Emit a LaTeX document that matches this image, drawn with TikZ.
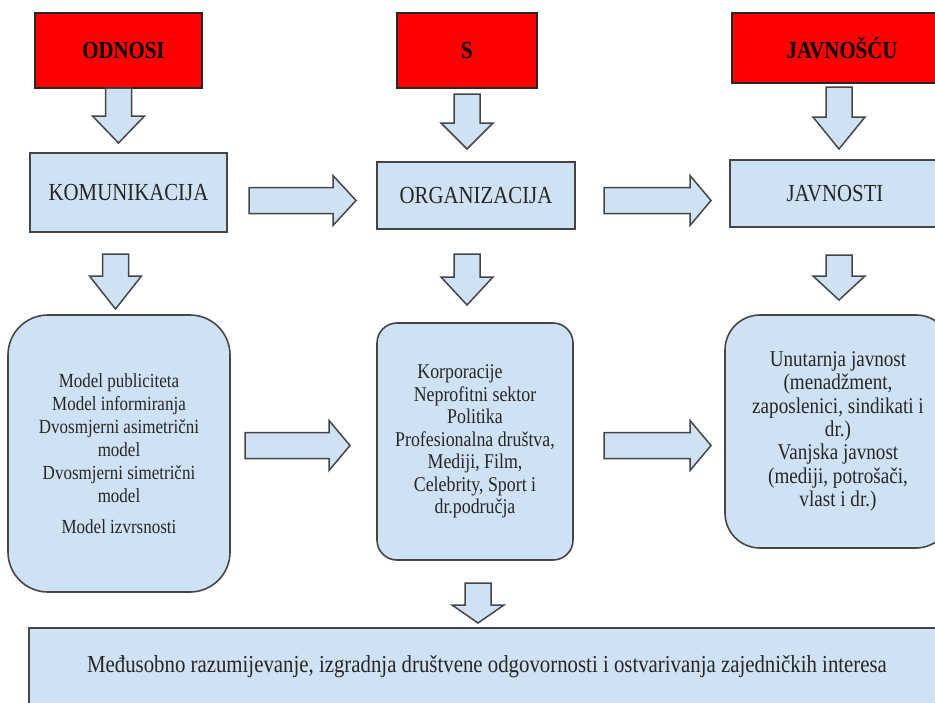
\documentclass[tikz,border=0pt]{standalone}
\usepackage{fontspec}
\setmainfont{Liberation Serif}[FakeStretch=0.85]
\definecolor{lb}{HTML}{CFE2F3}
\definecolor{bd}{HTML}{454545}
\definecolor{rd}{HTML}{FF0000}
\tikzset{
  box/.style={draw=bd, line width=1.6pt, fill=lb, text=black!85, inner sep=0pt, align=center},
  redbox/.style={draw=black!85, line width=1.6pt, fill=rd, text=black,
    font=\bfseries\fontsize{24.5}{28}\selectfont, inner sep=0pt},
  headtxt/.style={font=\fontsize{24.5}{28}\selectfont},
  bodytxt/.style={font=\fontsize{20}{23}\selectfont},
  blockarrow/.style={draw=bd, line width=1.5pt, fill=lb, line join=miter}
}
% down block arrow: centre x, top y, neck y, tip y
\newcommand\darr[4]{%
  \draw[blockarrow] (#1-13,#2) -- (#1+13,#2) -- (#1+13,#3) -- (#1+26,#3)
    -- (#1,#4) -- (#1-26,#3) -- (#1-13,#3) -- cycle;}
% right block arrow: left x, neck x, tip x, centre y
\newcommand\rarr[4]{%
  \draw[blockarrow] (#1,#4-13) -- (#2,#4-13) -- (#2,#4-25) -- (#3,#4)
    -- (#2,#4+25) -- (#2,#4+13) -- (#1,#4+13) -- cycle;}
\begin{document}
\begin{tikzpicture}[x=1pt,y=-1pt]
\useasboundingbox (0,0) rectangle (935,702);
\clip (0,0) rectangle (935,702);
\fill[white] (0,0) rectangle (935,702);

% top red boxes
\node[redbox, minimum width=167, minimum height=75] (odnosi) at (118.5,50.5) {\hspace*{10pt}ODNOSI};
\node[redbox, minimum width=140, minimum height=75] (s) at (467,50.5) {S};
\node[redbox, minimum width=220, minimum height=70] (javnoscu) at (842,48) {JAVNOŠĆU};

% second row
\node[box, headtxt, minimum width=197, minimum height=79] (kom) at (128.5,192.5) {KOMUNIKACIJA};
\node[box, headtxt, minimum width=198, minimum height=67] (org) at (476,195.5) {ORGANIZACIJA};
\node[box, headtxt, minimum width=210, minimum height=67] (jav) at (835,193.5) {JAVNOSTI};

% third row
\node[box, bodytxt, rounded corners=40, minimum width=222, minimum height=277] (models) at (119,453.5)
  {Model publiciteta\\ Model informiranja\\ Dvosmjerni asimetrični\\ model\\
   Dvosmjerni simetrični\\ model\\[8pt] Model izvrsnosti};
\node[box, font=\fontsize{21}{22.5}\selectfont, rounded corners=20, minimum width=196, minimum height=237] (sect) at (475,441.5)
  {Korporacije\hspace*{30pt}\\ Neprofitni sektor\hspace*{12pt}\\ Politika\hspace*{46pt}\\
   Profesionalna društva,\\ Mediji, Film,\\ Celebrity, Sport i\\ dr.područja};
\node[box, font=\fontsize{22.5}{23.3}\selectfont, rounded corners=35, minimum width=226, minimum height=233] (pub) at (838,431.5)
  {Unutarnja javnost\\ (menadžment,\\ zaposlenici, sindikati i\\ dr.)\\ Vanjska javnost\\
   (mediji, potrošači,\\ vlast i dr.)};

% bottom box
\node[box, font=\fontsize{24.5}{28}\selectfont, minimum width=916, minimum height=78] (goal) at (487,667)
  {Međusobno razumijevanje, izgradnja društvene odgovornosti i ostvarivanja zajedničkih interesa};

% down arrows
\darr{118.5}{88}{116}{143}
\darr{467}{94}{123}{149}
\darr{839}{87}{117}{149}
\darr{115.5}{254}{276}{309}
\darr{467}{254}{277}{305}
\darr{839}{255}{276}{300}
\darr{478}{583}{605}{623}

% right arrows
\rarr{249}{333}{356}{200.5}
\rarr{604}{690}{711}{200.5}
\rarr{245}{329}{350}{445.5}
\rarr{604}{690}{711}{445.5}
\end{tikzpicture}
\end{document}
